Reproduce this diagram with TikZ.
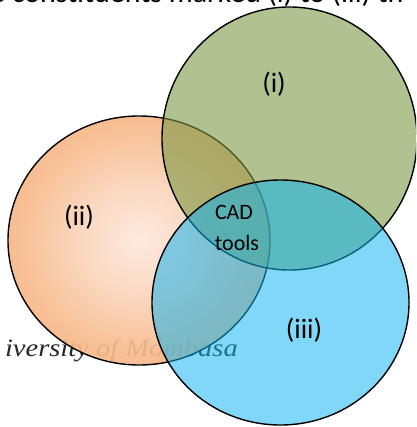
\documentclass[tikz,border=0pt]{standalone}
\usepackage{fontspec}
\setmainfont{Carlito}
\newfontfamily\wmfont{Liberation Serif}
\definecolor{orin}{RGB}{252,232,221}
\definecolor{ormida}{RGB}{251,213,188}
\definecolor{ormidb}{RGB}{247,188,143}
\definecolor{orout}{RGB}{246,178,124}
\definecolor{grfill}{RGB}{123,153,70}
\definecolor{blfill}{RGB}{15,180,240}
\pgfdeclareradialshading{orshade}{\pgfpoint{0bp}{0bp}}{color(0bp)=(orin); color(11bp)=(ormida); color(22bp)=(ormidb); color(31bp)=(orout); color(50bp)=(orout)}
\tikzset{
  setline/.style={draw=black, line width=1.4pt},
  lbl/.style={font=\fontsize{28}{32}\selectfont, inner sep=0pt},
  cadtxt/.style={font=\fontsize{22}{26}\selectfont, inner sep=0pt, anchor=base},
}
\begin{document}
\begin{tikzpicture}[x=1pt, y=-1pt]
\useasboundingbox (0,0) rectangle (416,427);
\clip (0,0) rectangle (416,427);
% cut-off caption line at the top
\node[anchor=base west, inner sep=0pt, font=\fontsize{30}{34}\selectfont] (caption) at (-10,3) {e constituents marked (i) to (iii) th};
% watermark behind the sets
\node[anchor=base east, inner sep=0pt, xscale=1.14, text=black!85, font=\wmfont\itshape\fontsize{25}{28}\selectfont] (wm) at (238,356) {iversity of Mombasa};
% set (ii)
\shadedraw[setline, shading=orshade, fill opacity=0.92] (139,240.5) ellipse [x radius=131, y radius=124.5];
% set (i)
\filldraw[setline, fill=grfill, fill opacity=0.6] (289.5,138.5) ellipse [x radius=127.5, y radius=131.5];
% set (iii)
\filldraw[setline, fill=blfill, fill opacity=0.53] (280.5,302.5) ellipse [x radius=128.5, y radius=122.5];
% labels
\node[lbl] (li) at (274,84) {(i)};
\node[lbl] (lii) at (79,217) {(ii)};
\node[lbl] (liii) at (304,330) {(iii)};
\node[cadtxt] (cad) at (234,219) {CAD};
\node[cadtxt] (tools) at (237,250) {tools};
\end{tikzpicture}
\end{document}
